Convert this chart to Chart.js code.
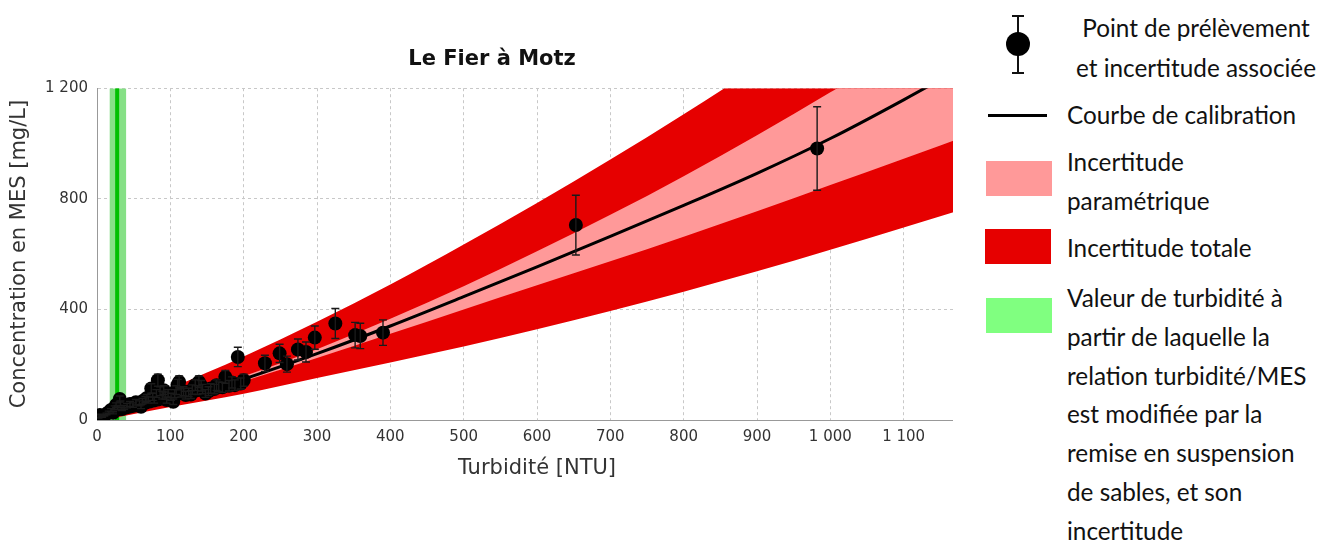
<!DOCTYPE html>
<html>
<head>
<meta charset="utf-8">
<script src="https://cdn.jsdelivr.net/npm/chart.js@4.4.1/dist/chart.umd.min.js"></script>
<style>
  body { margin: 0; background: #fff; }
  #wrap { position: relative; width: 1333px; height: 543px; overflow: hidden; }
  /* the reference plot is cut off at its right edge, so the canvas is clipped too */
  #plotClip { position: absolute; left: 0; top: 0; width: 953px; height: 543px; overflow: hidden; }
  .lg { position: absolute; font-family: Lato, 'Noto Sans', sans-serif; font-size: 24.3px; color: #111; white-space: nowrap; }
  .sw { position: absolute; width: 66px; height: 35px; }
</style>
</head>
<body>
<div id="wrap">
  <div id="plotClip"><canvas id="myChart" width="984" height="543"></canvas></div>

  <svg style="position:absolute;left:1004px;top:12px" width="28" height="66">
    <line x1="14" y1="4" x2="14" y2="61" stroke="#111" stroke-width="2"/>
    <line x1="8" y1="4" x2="20" y2="4" stroke="#111" stroke-width="2"/>
    <line x1="8" y1="61" x2="20" y2="61" stroke="#111" stroke-width="2"/>
    <circle cx="14" cy="32" r="12" fill="#000"/>
  </svg>
  <div class="lg" style="left:1060px;width:272px;top:8px;line-height:40px;text-align:center">Point de prélèvement<br>et incertitude associée</div>

  <div style="position:absolute;left:988px;top:114px;width:59px;height:3px;background:#000"></div>
  <div class="lg" style="left:1067px;top:95px;line-height:39px">Courbe de calibration</div>

  <div class="sw" style="left:986px;top:161px;background:#ff9999"></div>
  <div class="lg" style="left:1067px;top:142px;line-height:39px">Incertitude<br>paramétrique</div>

  <div class="sw" style="left:985px;top:229px;background:#e60000"></div>
  <div class="lg" style="left:1067px;top:228px;line-height:39px">Incertitude totale</div>

  <div class="sw" style="left:986px;top:298px;background:#80ff80"></div>
  <div class="lg" style="left:1067px;top:279px;line-height:38.8px">Valeur de turbidité à<br>partir de laquelle la<br>relation turbidité/MES<br>est modifiée par la<br>remise en suspension<br>de sables, et son<br>incertitude</div>
</div>

<script>
// sampled points: turbidity [NTU], MES [mg/L], +/- uncertainty
const ptX = [2, 4, 7, 10, 13, 16, 19, 22, 24, 26, 28, 31, 32, 34, 37, 41, 45, 49, 53, 58,
  62, 66, 70, 74, 76, 78, 81, 83, 86, 89, 93, 97, 101, 104, 108, 110, 112, 115, 118, 121,
  125, 130, 134, 137, 139, 144, 148, 155, 160, 166, 171, 175, 180, 188, 192, 196, 200, 229, 249, 259,
  274, 285, 297, 325, 352, 359, 390, 653, 982,
  60, 68, 91, 95, 106, 128, 142, 152, 163, 184];
const ptY = [8, 18, 12, 16, 22, 28, 36, 26, 44, 54, 46, 76, 60, 40, 46, 52, 58, 54, 64, 60,
  68, 74, 72, 114, 84, 72, 96, 144, 104, 90, 88, 96, 84, 66, 108, 128, 138, 98, 104, 90,
  100, 110, 126, 108, 138, 112, 96, 114, 112, 120, 118, 156, 124, 126, 228, 132, 144, 205, 241, 202,
  255, 246, 298, 349, 307, 304, 316, 705, 982,
  48, 80, 108, 72, 96, 92, 124, 104, 126, 136];
const ptErr = [1, 3, 2, 2, 3, 4, 5, 4, 7, 8, 7, 11, 9, 6, 7, 8, 9, 8, 10, 9,
  10, 11, 11, 17, 13, 11, 14, 22, 16, 14, 13, 14, 13, 10, 16, 19, 21, 15, 16, 14,
  15, 17, 19, 16, 21, 17, 14, 17, 17, 18, 18, 23, 19, 19, 35, 20, 22, 29, 33, 29,
  38, 36, 42, 54, 46, 46, 46, 108, 151,
  7, 12, 16, 11, 14, 14, 19, 16, 19, 20];

// calibration curve
const calibX = [0, 100, 200, 300, 400, 500, 600, 700, 800, 900, 1000, 1100, 1200];
const calibY = [0, 66, 148, 240, 340, 446, 554, 664, 776, 892, 1018, 1158, 1306];

// uncertainty envelopes
const bandX = [28, 100, 200, 300, 400, 500, 600, 700, 800, 900, 1000, 1100, 1200];
const paramHi = [20, 70, 158, 256, 366, 484, 610, 742, 882, 1030, 1185, 1346, 1512];
const paramLo = [16, 61, 140, 224, 312, 400, 487, 574, 663, 755, 850, 945, 1042];
const totalHi = [32, 115, 230, 355, 490, 635, 785, 942, 1106, 1276, 1452, 1634, 1822];
const totalLo = [10, 47, 95, 152, 208, 266, 328, 394, 464, 538, 616, 696, 778];

// sand resuspension threshold and its uncertainty
const sandZone = [17, 40];
const sandThreshold = 27.5;

const xTicks = { min: 0, max: 1200, step: 100 };
const yTicks = { min: 0, max: 1200, step: 400 };

const toXY = (xs, ys) => xs.map((x, i) => ({ x: x, y: ys[i] }));
const spaced = v => String(v).replace(/\B(?=(\d{3})+(?!\d))/g, ' ');

const errorBars = {
  id: 'errorBars',
  afterDatasetsDraw(chart) {
    const ctx = chart.ctx;
    const xs = chart.scales.x;
    const ys = chart.scales.y;
    const area = chart.chartArea;
    ctx.save();
    ctx.beginPath();
    ctx.rect(area.left, area.top, area.right - area.left, area.bottom - area.top);
    ctx.clip();
    ctx.strokeStyle = '#1a1a1a';
    ctx.lineWidth = 1.4;
    ptX.forEach((x, i) => {
      const px = xs.getPixelForValue(x);
      const top = ys.getPixelForValue(ptY[i] + ptErr[i]);
      const bot = ys.getPixelForValue(ptY[i] - ptErr[i]);
      ctx.beginPath();
      ctx.moveTo(px, top); ctx.lineTo(px, bot);
      ctx.moveTo(px - 4, top); ctx.lineTo(px + 4, top);
      ctx.moveTo(px - 4, bot); ctx.lineTo(px + 4, bot);
      ctx.stroke();
    });
    ctx.restore();
  }
};

const font = 'DejaVu Sans';
const noLine = { borderColor: 'transparent', borderWidth: 0, pointRadius: 0, cubicInterpolationMode: 'monotone' };

const ctx = document.getElementById('myChart').getContext('2d');
const myChart = new Chart(ctx, {
  type: 'line',
  data: {
    datasets: [
      {
        data: toXY(ptX, ptY),
        showLine: false,
        pointRadius: 7,
        pointBorderWidth: 0,
        pointBackgroundColor: '#000',
        order: 0,
      },
      {
        data: toXY(calibX, calibY),
        borderColor: '#000',
        borderWidth: 3,
        pointRadius: 0,
        cubicInterpolationMode: 'monotone',
        order: 1,
      },
      Object.assign({ data: toXY(bandX, paramHi), fill: '+1', backgroundColor: '#ff9999', order: 2 }, noLine),
      Object.assign({ data: toXY(bandX, paramLo), fill: false, order: 2 }, noLine),
      Object.assign({ data: toXY(bandX, totalHi), fill: '+1', backgroundColor: '#e60000', order: 3 }, noLine),
      Object.assign({ data: toXY(bandX, totalLo), fill: false, order: 3 }, noLine),
      {
        data: [{ x: sandThreshold, y: yTicks.min }, { x: sandThreshold, y: yTicks.max }],
        borderColor: '#00c000',
        borderWidth: 4,
        pointRadius: 0,
        order: 4,
      },
      {
        data: [{ x: sandZone[0], y: yTicks.max }, { x: sandZone[1], y: yTicks.max }],
        fill: 'origin',
        backgroundColor: '#86e086',
        borderColor: 'transparent',
        borderWidth: 0,
        pointRadius: 0,
        order: 5,
      },
    ],
  },
  options: {
    responsive: false,
    animation: false,
    devicePixelRatio: 1,
    layout: { padding: 0 },
    plugins: {
      legend: { display: false },
      tooltip: { enabled: false },
      title: {
        display: true,
        text: 'Le Fier à Motz',
        color: '#111',
        font: { family: font, size: 21, weight: 'bold' },
        padding: { top: 47, bottom: 16 },
      },
    },
    scales: {
      x: {
        type: 'linear',
        min: xTicks.min,
        max: xTicks.max,
        ticks: {
          stepSize: xTicks.step,
          padding: 8,
          maxRotation: 0,
          color: '#333',
          font: { family: font, size: 15 },
          callback: v => spaced(v),
        },
        grid: { color: '#c8c8c8', drawTicks: false },
        border: { color: '#999', width: 1, dash: [3, 3] },
        title: {
          display: true,
          text: 'Turbidité [NTU]',
          color: '#333',
          font: { family: font, size: 21 },
          padding: { top: 0, bottom: 62 },
        },
        afterFit(scale) {
          scale.height = 123;
          scale.paddingLeft = 0;
          scale.paddingRight = 0;
        },
      },
      y: {
        type: 'linear',
        min: yTicks.min,
        max: yTicks.max,
        ticks: {
          stepSize: yTicks.step,
          padding: 9,
          color: '#333',
          font: { family: font, size: 15 },
          callback: v => spaced(v),
        },
        grid: { color: '#c8c8c8', drawTicks: false },
        border: { color: '#999', width: 1, dash: [3, 3] },
        title: {
          display: true,
          text: 'Concentration en MES [mg/L]',
          color: '#333',
          font: { family: font, size: 21 },
          padding: { top: 7, bottom: 0 },
        },
        afterFit(scale) {
          scale.width = 97;
          scale.paddingTop = 0;
          scale.paddingBottom = 0;
        },
      },
    },
  },
  plugins: [errorBars],
});
</script>
</body>
</html>
